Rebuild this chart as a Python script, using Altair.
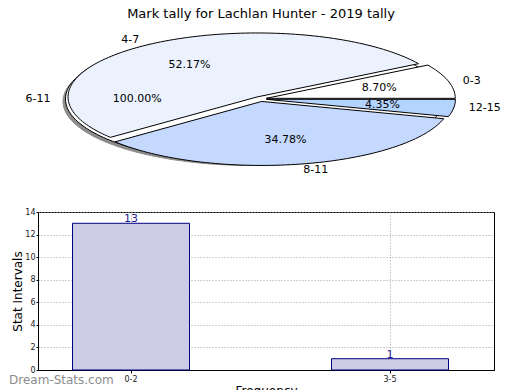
import altair as alt
import numpy as np
import pandas as pd

# ---------------- data ----------------
TITLE = "Mark tally for Lachlan Hunter - 2019 tally"
slice_labels = ["0-3", "4-7", "8-11", "12-15", "6-11"]
slice_pcts = [8.70, 52.17, 34.78, 4.35, 100.00]

bar_cats = ["0-2", "3-5"]
bar_vals = [13, 1]
WATERMARK = "Dream-Stats.com"

# ---------------- style ----------------
slice_colors = {"0-3": "#ffffff", "4-7": "#ebf2fe", "8-11": "#c5d8fe",
                "12-15": "#b4d3fe", "6-11": "#ffffff"}
FONT = "DejaVu Sans"
OX = 37            # page x of plot-area left edge (estimate)
PW, PH = 466, 198  # pie panel size
CX, CY = 259.5 - OX, 99 - 8
RX, RY = 189, 64
EX, EY = 6.0, 2.5
R_EDGE = 493
BW, BH = R_EDGE - OX, 158

# band layout to place bar centres like the reference
C1, STEP, BWID = 130, 259, 117
PI = 1 - BWID / STEP
TOT = BW / STEP
PO = (TOT - 2 + PI) / 2
EXCESS = BW - STEP * (2 - PI)
ALIGN = (C1 - BWID / 2 - OX) / EXCESS

# ---------------- pie geometry from data ----------------
poly_rows, lab_rows, cat_rows = [], [], []
cum = 0.0
for lab, p in zip(slice_labels, slice_pcts):
    a0 = cum * 3.6
    span = p * 3.6
    cum += p
    mid = np.radians(a0 + span / 2)
    c, s = np.cos(mid), np.sin(mid)
    cx = CX + EX * c
    cy = CY - EY * s
    n = max(8, int(span / 1.5))
    angs = np.radians(np.linspace(a0, a0 + span, n))
    pts = []
    if span < 359.9:
        pts.append((cx, cy))
    pts += [(cx + RX * np.cos(a), cy - RY * np.sin(a)) for a in angs]
    if span < 359.9:
        pts.append((cx, cy))
    for i, (x, y) in enumerate(pts):
        poly_rows.append({"slice": lab, "i": i, "px": x, "py": y})
    if span >= 359.9:
        for i, (x, y) in enumerate(pts):
            poly_rows.append({"slice": "shadow", "i": i, "px": x - 2.5, "py": y + 2.5})
    lab_rows.append({"t": f"{p:.2f}%",
                     "px": cx + 0.62 * RX * c, "py": cy - 0.62 * RY * s})
    al = "center" if abs(c) < 0.1 else ("left" if c > 0 else "right")
    bl = "middle" if abs(s) < 0.3 else ("bottom" if s > 0 else "top")
    cat_rows.append({"t": lab, "al": al, "bl": bl,
                     "px": cx + 1.08 * RX * c, "py": cy - 1.0 * RY * s})

poly_df = pd.DataFrame(poly_rows)
lab_df = pd.DataFrame(lab_rows)
cat_df = pd.DataFrame(cat_rows)

xs = alt.X("px:Q", scale=alt.Scale(domain=[0, PW], nice=False, zero=False), axis=None)
ys = alt.Y("py:Q", scale=alt.Scale(domain=[PH, 0], nice=False, zero=False), axis=None)

base_poly = alt.Chart(poly_df)
layers = [
    base_poly.transform_filter(alt.datum.slice == "shadow")
    .mark_line(fill="#8c8c8c", stroke="#8c8c8c", strokeWidth=1)
    .encode(x=xs, y=ys, order="i:Q")
]
draw_order = ["6-11", "4-7", "8-11", "0-3", "12-15"]
for s_ in draw_order:
    layers.append(
        base_poly.transform_filter(alt.datum.slice == s_)
        .mark_line(fill=slice_colors[s_], stroke="black", strokeWidth=1, strokeJoin="round")
        .encode(x=xs, y=ys, order="i:Q")
    )
layers.append(alt.Chart(lab_df).mark_text(font=FONT, fontSize=11, color="black").encode(
    x=xs, y=ys, text="t:N"))
for (al, bl), grp in cat_df.groupby(["al", "bl"]):
    layers.append(alt.Chart(grp).mark_text(font=FONT, fontSize=11, color="black",
                                           align=al, baseline=bl).encode(x=xs, y=ys, text="t:N"))
layers.append(alt.Chart(pd.DataFrame({"t": [TITLE]})).mark_text(
    font=FONT, fontSize=13, color="black", baseline="top", align="center"
).encode(x=alt.value(260 - OX), y=alt.value(0), text="t:N"))

pie = alt.layer(*layers).properties(
    width=PW, height=PH, view=alt.ViewBackground(stroke=None))

# ---------------- bar chart ----------------
bar_df = pd.DataFrame({"cat": bar_cats, "val": bar_vals})
bx = alt.X("cat:N", sort=bar_cats,
           scale=alt.Scale(paddingInner=PI, paddingOuter=PO, align=ALIGN),
           axis=alt.Axis(title="Frequency", labelAngle=0, labelFontSize=8,
                         grid=True, gridDash=[1, 2], gridColor="#a0a0a0",
                         tickBand="center", tickSize=3, labelPadding=2,
                         titleFontSize=12, titlePadding=2, titleFontWeight="normal"))
by = alt.Y("val:Q", scale=alt.Scale(domain=[0, 14], nice=False),
           axis=alt.Axis(title="Stat Intervals", values=list(range(0, 15, 2)),
                         labelFontSize=8, grid=True, gridDash=[1, 2], gridColor="#a0a0a0",
                         tickSize=2, labelPadding=1, titleFontSize=12, titlePadding=0,
                         titleFontWeight="normal"))
bars = alt.Chart(bar_df).mark_bar(fill="#ccccE6", stroke="#000080", strokeWidth=1).encode(x=bx, y=by)
btext = alt.Chart(bar_df).mark_text(font=FONT, fontSize=11, color="#1f1f99",
                                    baseline="bottom", dy=1).encode(x=bx, y=by, text="val:Q")
wm = alt.Chart(pd.DataFrame({"t": [WATERMARK]})).mark_text(
    font=FONT, fontSize=12, fontWeight="normal", color="#8c8c8c", align="left", baseline="middle"
).encode(x=alt.value(8 - OX), y=alt.value(379 - 211), text="t:N")

bar = alt.layer(bars, btext, wm).properties(
    width=BW, height=BH, view=alt.ViewBackground(stroke="black", strokeWidth=1))

chart = alt.vconcat(pie, bar, spacing=1).properties(padding=0).configure(
    font=FONT
).configure_axis(
    domainColor="black", tickColor="black", labelColor="#222222", titleColor="black",
    labelFont=FONT, titleFont=FONT
)

chart.save("out.html", embed_options={"renderer": "svg", "actions": False})
